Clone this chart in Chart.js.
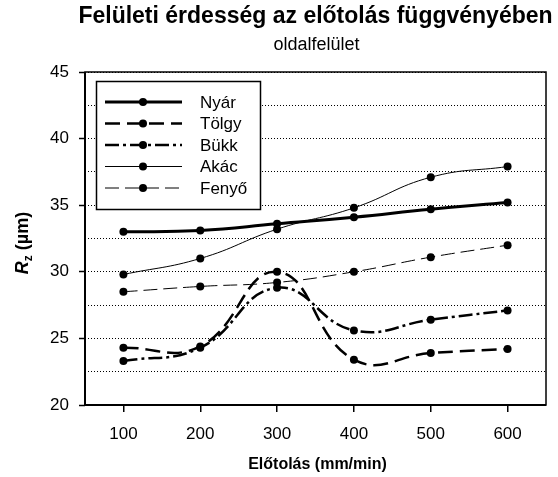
<!DOCTYPE html>
<html><head><meta charset="utf-8">
<script src="https://cdn.jsdelivr.net/npm/chart.js@4"></script>
<style>html,body{margin:0;padding:0;background:#fff}</style>
</head><body>
<canvas id="c" width="558" height="477"></canvas>
<script>
const categories = ['100','200','300','400','500','600'];
const nyar  = [33.0, 33.1, 33.6, 34.1, 34.7, 35.2];
const tolgy = [24.3, 24.4, 30.0, 23.4, 23.9, 24.2];
const bukk  = [23.3, 24.3, 28.8, 25.6, 26.4, 27.1];
const akac  = [29.8, 31.0, 33.2, 34.8, 37.1, 37.9];
const fenyo = [28.5, 28.9, 29.2, 30.0, 31.1, 32.0];
const seriesNames = ['Nyár', 'Tölgy', 'Bükk', 'Akác', 'Fenyő'];
const yMin = 20, yMax = 45, yMajor = 5, yMinor = 2.5;
const titleText = 'Felületi érdesség az előtolás függvényében';
const subtitleText = 'oldalfelület';
const xTitleText = 'Előtolás (mm/min)';

const FONT = '"Liberation Sans", Arial, sans-serif';
const styles = [
  {w: 3,   dash: []},
  {w: 2.5, dash: [15, 7]},
  {w: 2.5, dash: [14, 4, 3, 4]},
  {w: 1,   dash: []},
  {w: 1,   dash: [14, 6]}
];
const seriesData = [nyar, tolgy, bukk, akac, fenyo];

const datasets = seriesNames.map((n, i) => ({
  label: n,
  data: seriesData[i],
  borderColor: '#000',
  backgroundColor: '#000',
  borderWidth: styles[i].w,
  borderDash: styles[i].dash,
  pointRadius: 4,
  pointHoverRadius: 4,
  pointBackgroundColor: '#000',
  pointBorderColor: '#000',
  pointBorderWidth: 0,
  tension: 0.45,
  fill: false
}));

const decor = {
  id: 'decor',
  afterDraw(chart) {
    const ctx = chart.ctx, a = chart.chartArea;
    ctx.save();
    // frame
    ctx.strokeStyle = '#000';
    ctx.lineWidth = 1.5;
    ctx.setLineDash([]);
    ctx.strokeRect(a.left, a.top, a.right - a.left, a.bottom - a.top);
    ctx.lineWidth = 2;
    ctx.beginPath(); ctx.moveTo(a.left, a.top); ctx.lineTo(a.left, a.bottom); ctx.lineTo(a.right, a.bottom); ctx.stroke();
    const cx = (a.left + a.right) / 2;
    // titles
    ctx.fillStyle = '#000';
    ctx.textAlign = 'center';
    ctx.textBaseline = 'middle';
    ctx.font = 'bold 23px ' + FONT;
    ctx.fillText(titleText, cx, 17);
    ctx.font = '18px ' + FONT;
    ctx.fillText(subtitleText, cx + 1, 45);
    ctx.font = 'bold 16px ' + FONT;
    ctx.fillText(xTitleText, cx + 2, 465);
    // y title
    ctx.save();
    ctx.translate(28, 243);
    ctx.rotate(-Math.PI / 2);
    ctx.textAlign = 'left';
    ctx.textBaseline = 'alphabetic';
    const f1 = 'italic bold 18px ' + FONT, f2 = 'bold 12px ' + FONT, f3 = 'bold 18px ' + FONT;
    ctx.font = f1; const w1 = ctx.measureText('R').width;
    ctx.font = f2; const w2 = ctx.measureText('z').width;
    ctx.font = f3; const w3 = ctx.measureText(' (µm)').width;
    let x0 = -(w1 + w2 + w3) / 2;
    ctx.font = f1; ctx.fillText('R', x0, 0);
    ctx.font = f2; ctx.fillText('z', x0 + w1, 4);
    ctx.font = f3; ctx.fillText(' (µm)', x0 + w1 + w2, 0);
    ctx.restore();
    // legend
    const bx = 96.5, by = 81.5, bw = 164, bh = 128;
    ctx.fillStyle = '#fff';
    ctx.fillRect(bx, by, bw, bh);
    ctx.strokeStyle = '#000';
    ctx.lineWidth = 1.5;
    ctx.strokeRect(bx, by, bw, bh);
    const rowY0 = 102, rowStep = 21.5;
    chart.data.datasets.forEach((ds, i) => {
      const y = rowY0 + i * rowStep;
      ctx.beginPath();
      ctx.lineWidth = ds.borderWidth;
      ctx.setLineDash(ds.borderDash);
      ctx.moveTo(105, y); ctx.lineTo(182, y);
      ctx.stroke();
      ctx.setLineDash([]);
      ctx.beginPath();
      ctx.fillStyle = '#000';
      ctx.arc(143, y, 4, 0, Math.PI * 2);
      ctx.fill();
      ctx.font = '17px ' + FONT;
      ctx.textAlign = 'left';
      ctx.textBaseline = 'middle';
      ctx.fillText(ds.label, 200, y + 1);
    });
    ctx.restore();
  }
};

new Chart(document.getElementById('c'), {
  type: 'line',
  data: {labels: categories, datasets},
  options: {
    responsive: false,
    devicePixelRatio: 1,
    animation: false,
    layout: {padding: {left: 0, top: 72, right: 12, bottom: 0}},
    plugins: {legend: {display: false}, title: {display: false}, tooltip: {enabled: false}},
    scales: {
      x: {
        type: 'category',
        offset: true,
        afterFit(s) { s.height = 72; },
        grid: {drawOnChartArea: false, color: '#000', tickLength: 7, lineWidth: 1.5},
        border: {display: false},
        ticks: {color: '#000', font: {family: FONT, size: 17}, padding: 12, maxRotation: 0}
      },
      y: {
        min: yMin, max: yMax,
        afterFit(s) { s.width = 85; },
        afterBuildTicks(s) {
          const t = [];
          for (let v = yMin; v <= yMax + 1e-9; v += yMinor) t.push({value: v});
          s.ticks = t;
        },
        grid: {
          color: '#000', lineWidth: 1, tickLength: 6,
          tickColor: (c) => (c.tick && Math.abs(c.tick.value % yMajor) < 1e-6) ? '#000' : 'rgba(0,0,0,0)',
          tickWidth: 1.5
        },
        border: {display: false, dash: [1, 2]},
        ticks: {
          color: '#000', font: {family: FONT, size: 17}, padding: 10,
          callback: (v) => (Math.abs(v % yMajor) < 1e-6) ? String(v) : ''
        }
      }
    }
  },
  plugins: [decor]
});
</script>
</body></html>
